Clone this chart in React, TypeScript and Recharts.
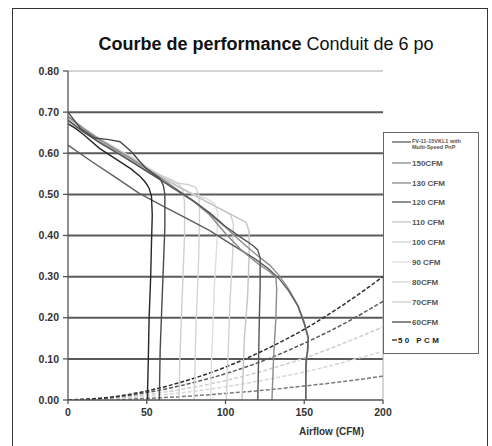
import React from 'react';
import { LineChart, Line, XAxis, YAxis, ReferenceLine } from 'recharts';

type Pt = [number, number];

// fan curves: [airflow CFM, static pressure in. w.g.]
const fvCurve: Pt[] = [[0, 0.62], [15, 0.58], [30, 0.542], [45, 0.503], [60, 0.472], [75, 0.442], [90, 0.412], [104, 0.378], [118, 0.345], [127, 0.32], [134, 0.295], [140, 0.266], [146, 0.228], [150, 0.185], [152.5, 0.15], [152, 0.12], [151, 0.09], [151, 0.04], [151, 0]];
const cfm150: Pt[] = [[0, 0.68], [10, 0.652], [20, 0.628], [30, 0.606], [40, 0.582], [50, 0.557], [60, 0.532], [70, 0.507], [80, 0.482], [90, 0.452], [100, 0.42], [110, 0.385], [120, 0.352], [128, 0.328], [134, 0.303], [140, 0.27], [146, 0.23], [150, 0.19], [152.5, 0.155], [152.5, 0.125], [151.5, 0.1], [151, 0.05], [151, 0]];
const cfm130: Pt[] = [[0, 0.69], [10, 0.66], [20, 0.633], [30, 0.61], [40, 0.587], [50, 0.562], [60, 0.537], [70, 0.51], [80, 0.483], [90, 0.45], [100, 0.405], [110, 0.365], [120, 0.333], [128, 0.312], [132, 0.298], [132.5, 0.27], [132, 0.2], [130.5, 0.1], [129.5, 0]];
const cfm120: Pt[] = [[0, 0.68], [10, 0.651], [20, 0.626], [30, 0.603], [40, 0.58], [50, 0.556], [60, 0.532], [70, 0.508], [80, 0.483], [90, 0.455], [100, 0.422], [110, 0.395], [117, 0.377], [120.5, 0.365], [122, 0.345], [122, 0.28], [121.5, 0.2], [121, 0.1], [120.5, 0]];
const cfm110: Pt[] = [[0, 0.685], [10, 0.657], [20, 0.632], [30, 0.61], [40, 0.588], [50, 0.564], [60, 0.54], [70, 0.518], [80, 0.498], [90, 0.478], [100, 0.458], [108, 0.442], [113, 0.432], [115, 0.41], [115, 0.35], [114, 0.25], [112, 0.15], [111, 0.05], [110.5, 0]];
const cfm100: Pt[] = [[0, 0.686], [10, 0.658], [20, 0.633], [30, 0.611], [40, 0.589], [50, 0.565], [60, 0.541], [70, 0.519], [80, 0.499], [90, 0.479], [98, 0.462], [103, 0.452], [105, 0.43], [104.5, 0.35], [103, 0.25], [102, 0.15], [101, 0.05], [100.5, 0]];
const cfm90: Pt[] = [[0, 0.687], [10, 0.659], [20, 0.634], [30, 0.612], [40, 0.59], [50, 0.566], [60, 0.542], [70, 0.52], [80, 0.5], [88, 0.49], [93, 0.478], [95, 0.455], [94.5, 0.38], [93, 0.28], [92, 0.18], [91, 0.08], [90.5, 0]];
const cfm80: Pt[] = [[0, 0.688], [10, 0.66], [20, 0.635], [30, 0.613], [40, 0.591], [50, 0.567], [60, 0.542], [68, 0.528], [76, 0.524], [81, 0.518], [83, 0.5], [83.5, 0.45], [83, 0.35], [82, 0.25], [81, 0.15], [80.5, 0.05], [80, 0]];
const cfm70: Pt[] = [[0, 0.689], [10, 0.661], [20, 0.636], [30, 0.614], [40, 0.59], [50, 0.565], [60, 0.545], [66, 0.535], [70, 0.527], [73, 0.51], [74, 0.48], [74, 0.4], [73, 0.3], [72, 0.2], [71, 0.1], [70.5, 0]];
const cfm60: Pt[] = [[0, 0.7], [8, 0.66], [17, 0.637], [26, 0.633], [33, 0.628], [40, 0.605], [46, 0.578], [50, 0.562], [55, 0.548], [58.5, 0.538], [60.5, 0.522], [61.5, 0.5], [61.5, 0.42], [60.5, 0.32], [59.5, 0.22], [58.5, 0.12], [58, 0]];
const cfm50: Pt[] = [[0, 0.672], [5, 0.66], [10, 0.645], [20, 0.612], [30, 0.587], [40, 0.562], [46, 0.543], [49, 0.53], [51.5, 0.515], [53, 0.495], [53.5, 0.45], [53, 0.38], [52.5, 0.3], [51.5, 0.2], [51, 0.1], [50.5, 0.02], [50.5, 0]];

// system curves (dashed)
const sysFlow = [0, 25, 50, 75, 100, 125, 150, 175, 200];
const sysA = [0, 0.006, 0.022, 0.047, 0.08, 0.122, 0.172, 0.232, 0.3];
const sysB = [0, 0.005, 0.018, 0.038, 0.064, 0.097, 0.138, 0.185, 0.24];
const sysC = [0, 0.003, 0.013, 0.028, 0.047, 0.072, 0.102, 0.138, 0.178];
const sysD = [0, 0.002, 0.009, 0.019, 0.032, 0.049, 0.068, 0.092, 0.118];
const sysE = [0, 0.001, 0.004, 0.009, 0.016, 0.024, 0.034, 0.045, 0.058];

const yTicks = [0, 0.1, 0.2, 0.3, 0.4, 0.5, 0.6, 0.7, 0.8];
const xTicks = [0, 50, 100, 150, 200];

const fans = [
  { key: 'fv', label: ['FV-11-15VKL1 with', 'Multi-Speed PnP'], color: '#5e5e5e', pts: fvCurve },
  { key: 'c150', label: ['150CFM'], color: '#8c8c8c', pts: cfm150 },
  { key: 'c130', label: ['130 CFM'], color: '#8a8a8a', pts: cfm130 },
  { key: 'c120', label: ['120 CFM'], color: '#555555', pts: cfm120 },
  { key: 'c110', label: ['110 CFM'], color: '#c4c4c4', pts: cfm110 },
  { key: 'c100', label: ['100 CFM'], color: '#d2d2d2', pts: cfm100 },
  { key: 'c90', label: ['90 CFM'], color: '#dedede', pts: cfm90 },
  { key: 'c80', label: ['80CFM'], color: '#d4d4d4', pts: cfm80 },
  { key: 'c70', label: ['70CFM'], color: '#d0d0d0', pts: cfm70 },
  { key: 'c60', label: ['60CFM'], color: '#4a4a4a', pts: cfm60 },
  { key: 'c50', label: ['50 PCM'], color: '#262626', pts: cfm50 },
];

const systems = [
  { key: 'sE', color: '#7a7a7a', vals: sysE },
  { key: 'sD', color: '#d6d6d6', vals: sysD },
  { key: 'sC', color: '#cdcdcd', vals: sysC },
  { key: 'sB', color: '#5a5a5a', vals: sysB },
  { key: 'sA', color: '#2e2e2e', vals: sysA },
];

const FONT = '"Liberation Sans", Arial, sans-serif';

// light curves first so the dark ones sit on top
const drawOrder = ['c90', 'c100', 'c80', 'c70', 'c110', 'c150', 'fv', 'c130', 'c120', 'c60', 'c50'];

function LegendBox() {
  const rows = [142, 163, 183, 202, 222, 242, 262, 282, 302, 322, 340];
  const top = 132;
  return (
    <svg width={100} height={225} style={{ position: 'absolute', left: 383, top }}>
      <rect x={0.5} y={0.5} width={95} height={221} fill="#fff" stroke="#666" strokeWidth={1} />
      {fans.map((f, i) => {
        const y = rows[i] - top;
        const last = f.key === 'c50';
        return (
          <g key={f.key}>
            <line x1={9} x2={last ? 14 : 28} y1={y} y2={y} stroke={f.color} strokeWidth={1.3} />
            <text
              x={last ? 15 : 29}
              y={y + (f.label.length > 1 ? 0.5 : 3)}
              fontFamily={FONT}
              fontSize={f.label.length > 1 ? 5.5 : 8}
              fontWeight={700}
              letterSpacing={last ? 2.4 : 0}
              fill={last ? '#222' : '#555'}
            >
              {f.label[0]}
              {f.label[1] && <tspan x={29} dy={6}>{f.label[1]}</tspan>}
            </text>
          </g>
        );
      })}
    </svg>
  );
}

export default function App() {
  const tickStyle = { fontSize: 10.5, fontWeight: 700, fill: '#333', fontFamily: FONT };
  return (
    <div style={{ position: 'absolute', left: 0, top: 0, width: 492, height: 446, background: '#fff', overflow: 'hidden' }}>
      <div style={{ position: 'absolute', left: 12, top: 8, width: 474, height: 450, border: '1.5px solid #333' }} />
      <div style={{ position: 'absolute', left: 0, width: 532, top: 34, textAlign: 'center', fontFamily: FONT, fontSize: 18, color: '#111', whiteSpace: 'nowrap' }}>
        <b>Courbe de performance</b> Conduit de 6 po
      </div>
      <div style={{ position: 'absolute', left: 0, top: 0 }}>
        <LineChart width={492} height={446} margin={{ top: 71, right: 109, left: 0, bottom: 16 }}>
          <XAxis
            dataKey="x"
            type="number"
            domain={[0, 200]}
            ticks={xTicks}
            height={30}
            allowDataOverflow
            stroke="#555"
            strokeWidth={1.3}
            tickSize={4}
            tickMargin={5}
            tick={tickStyle}
          />
          <YAxis
            type="number"
            domain={[0, 0.8]}
            ticks={yTicks}
            width={68}
            allowDataOverflow
            stroke="#555"
            strokeWidth={1.3}
            tickSize={5}
            tickMargin={4}
            tick={tickStyle}
            tickFormatter={(v: number) => v.toFixed(2)}
          />
          {yTicks.filter((t) => t > 0).map((t) => (
            <ReferenceLine key={t} y={t} stroke={t === 0.8 ? '#aaa' : '#5a5a5a'} strokeWidth={t === 0.8 ? 1 : 2} />
          ))}
          <ReferenceLine segment={[{ x: 200, y: 0 }, { x: 200, y: 0.3 }]} stroke="#aaa" strokeWidth={1} />
          {systems.map((s) => (
            <Line
              key={s.key}
              data={sysFlow.map((x, i) => ({ x, y: s.vals[i] }))}
              dataKey="y"
              type="monotone"
              stroke={s.color}
              strokeWidth={1.5}
              strokeDasharray="4 2"
              dot={false}
              isAnimationActive={false}
            />
          ))}
          {drawOrder.map((k) => {
            const f = fans.find((c) => c.key === k)!;
            return (
              <Line
                key={f.key}
                data={f.pts.map(([x, y]) => ({ x, y }))}
                dataKey="y"
                type="linear"
                stroke={f.color}
                strokeWidth={1.4}
                dot={false}
                isAnimationActive={false}
              />
            );
          })}
        </LineChart>
      </div>
      <div style={{ position: 'absolute', left: 299, top: 426, fontFamily: FONT, fontSize: 10, fontWeight: 700, color: '#333' }}>
        Airflow (CFM)
      </div>
      <LegendBox />
    </div>
  );
}
